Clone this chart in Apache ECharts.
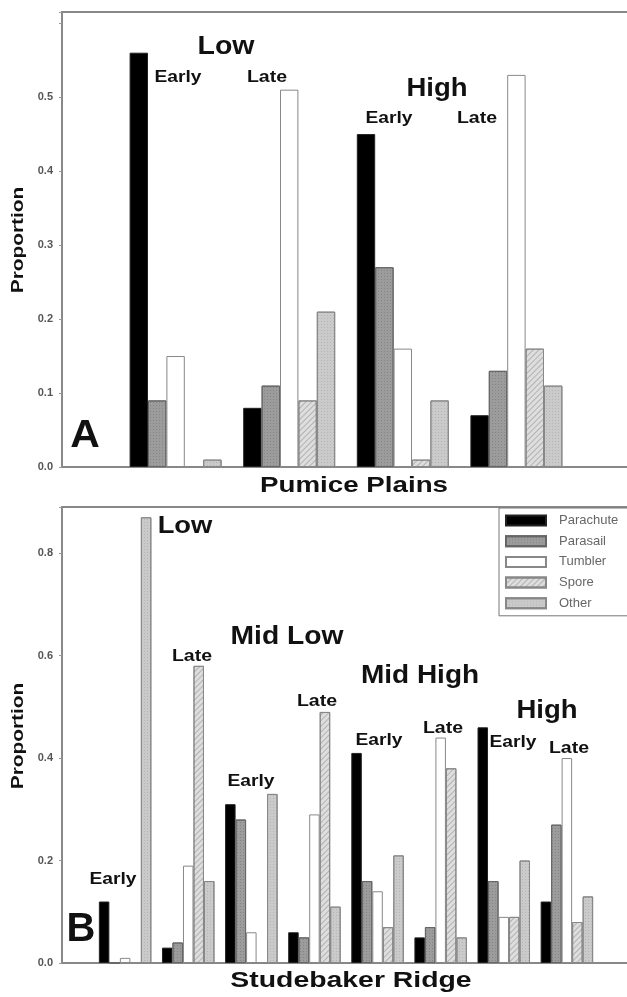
<!DOCTYPE html>
<html><head><meta charset="utf-8">
<script src="https://cdn.jsdelivr.net/npm/echarts@6/dist/echarts.min.js"></script>
<style>html,body{margin:0;padding:0;background:#fff;overflow:hidden}#c{width:627px;height:997px}</style>
</head><body><div id="c"></div>
<script>
// ---------- data ----------
const seriesNames = ['Parachute', 'Parasail', 'Tumbler', 'Spore', 'Other'];
const catsA = ['Low Early', 'Low Late', 'High Early', 'High Late'];
const catsB = ['Low Early', 'Low Late', 'Mid Low Early', 'Mid Low Late', 'Mid High Early', 'Mid High Late', 'High Early', 'High Late'];
// Pumice Plains (panel A)
const pumParachute = [0.56, 0.08, 0.45, 0.07];
const pumParasail  = [0.09, 0.11, 0.27, 0.13];
const pumTumbler   = [0.15, 0.51, 0.16, 0.53];
const pumSpore     = [0.00, 0.09, 0.01, 0.16];
const pumOther     = [0.01, 0.21, 0.09, 0.11];
// Studebaker Ridge (panel B)
const stuParachute = [0.12, 0.03, 0.31, 0.06, 0.41, 0.05, 0.46, 0.12];
const stuParasail  = [0.00, 0.04, 0.28, 0.05, 0.16, 0.07, 0.16, 0.27];
const stuTumbler   = [0.01, 0.19, 0.06, 0.29, 0.14, 0.44, 0.09, 0.40];
const stuSpore     = [0.00, 0.58, 0.00, 0.49, 0.07, 0.38, 0.09, 0.08];
const stuOther     = [0.87, 0.16, 0.33, 0.11, 0.21, 0.05, 0.20, 0.13];
// tick labels
const yTicksA = ['0.0', '0.1', '0.2', '0.3', '0.4', '0.5'];
const yTicksB = ['0.0', '0.2', '0.4', '0.6', '0.8'];

// ---------- styles ----------
const FONT = 'Liberation Sans, Arial, sans-serif';
const styles = {
  Parachute: { color: '#000000', borderColor: '#222', borderWidth: 1 },
  Parasail: { color: '#9c9c9c', borderColor: '#666', borderWidth: 1,
    decal: { symbol: 'rect', symbolSize: 1, dashArrayX: [1, 2], dashArrayY: [1, 2], color: 'rgba(0,0,0,0.15)' } },
  Tumbler: { color: '#ffffff', borderColor: '#888', borderWidth: 1 },
  Spore: { color: '#dedede', borderColor: '#888', borderWidth: 1,
    decal: { symbol: 'rect', symbolSize: 1, dashArrayX: [1, 0], dashArrayY: [1, 3], rotation: -Math.PI / 4, color: 'rgba(0,0,0,0.2)' } },
  Other: { color: '#cacaca', borderColor: '#888', borderWidth: 1,
    decal: { symbol: 'rect', symbolSize: 1, dashArrayX: [1, 2], dashArrayY: [1, 2], color: 'rgba(0,0,0,0.1)' } }
};
const pad = arr => [null].concat(arr, [null]);
const padCats = arr => [''].concat(arr, ['']);

const dataA = [pumParachute, pumParasail, pumTumbler, pumSpore, pumOther];
const dataB = [stuParachute, stuParasail, stuTumbler, stuSpore, stuOther];

const series = [];
seriesNames.forEach((n, i) => {
  series.push({ name: n, type: 'bar', xAxisIndex: 0, yAxisIndex: 0, data: pad(dataA[i]),
    barWidth: 18.4, barGap: '0%', itemStyle: styles[n], emphasis: { disabled: true } });
});
seriesNames.forEach((n, i) => {
  series.push({ name: n, type: 'bar', xAxisIndex: 1, yAxisIndex: 1, data: pad(dataB[i]),
    barWidth: 10.5, barGap: '0%', itemStyle: styles[n], emphasis: { disabled: true } });
});

function txt(t, x, y, size, sx, opts) {
  opts = opts || {};
  return { type: 'text', x: x, y: y, scaleX: sx, rotation: opts.rot || 0, z: 100,
    style: { text: t, fontSize: size, fontWeight: opts.w || 'bold', fontFamily: FONT, fill: opts.fill || '#111',
      align: 'center', verticalAlign: 'middle', textAlign: 'center', textVerticalAlign: 'middle' } };
}

const axisLineStyle = { show: true, lineStyle: { color: '#888', width: 2 } };
function yAxisCfg(gi, max, interval, ticks) {
  return { type: 'value', gridIndex: gi, min: 0, max: max, interval: interval,
    axisLine: axisLineStyle, splitLine: { show: false },
    axisTick: { show: true, length: 3, lineStyle: { color: '#999' } },
    axisLabel: { margin: 9, fontSize: 11, fontWeight: 'bold', color: '#555', fontFamily: FONT,
      formatter: v => { const s = v.toFixed(1); return (ticks.indexOf(s) >= 0 && v < max - 1e-6) ? s : ''; } } };
}
function xAxisCfg(gi, cats) {
  return { type: 'category', gridIndex: gi, data: padCats(cats), boundaryGap: false,
    axisLine: axisLineStyle, axisTick: { show: false }, axisLabel: { show: false }, splitLine: { show: false } };
}

const option = {
  animation: false,
  backgroundColor: '#fff',
  grid: [
    { left: 62, top: 12, width: 568, height: 455, outerBoundsMode: 'none', containLabel: false,
      show: true, borderColor: '#888', borderWidth: 2, backgroundColor: 'transparent' },
    { left: 62, top: 507, width: 568, height: 456, outerBoundsMode: 'none', containLabel: false,
      show: true, borderColor: '#888', borderWidth: 2, backgroundColor: 'transparent' }
  ],
  xAxis: [xAxisCfg(0, catsA), xAxisCfg(1, catsB)],
  yAxis: [yAxisCfg(0, 0.615, 0.1, yTicksA), yAxisCfg(1, 0.89, 0.2, yTicksB)],
  legend: {
    data: seriesNames, orient: 'vertical', left: 499, top: 508, icon: 'rect',
    itemWidth: 40, itemHeight: 10, itemGap: 7.7, padding: [6, 34, 6, 6],
    borderColor: '#777', borderWidth: 1, backgroundColor: '#fff',
    selectedMode: false,
    textStyle: { fontSize: 13, color: '#666', fontFamily: FONT, padding: [0, 0, 0, 8] }
  },
  series: series,
  graphic: [
    // panel A
    txt('Low', 226, 47, 25, 1.14),
    txt('Early', 178, 78, 16, 1.2),
    txt('Late', 267, 78, 16, 1.22),
    txt('High', 437, 89, 25, 1.1),
    txt('Early', 389, 119, 16, 1.2),
    txt('Late', 477, 119, 16, 1.22),
    txt('A', 85, 436, 39, 1.05),
    txt('Pumice Plains', 354, 486, 22, 1.26),
    txt('Proportion', 19, 240, 16, 1.3, { rot: Math.PI / 2 }),
    // panel B
    txt('Low', 185, 526, 24, 1.14),
    txt('Early', 113, 880, 16, 1.2),
    txt('Late', 192, 657, 16, 1.22),
    txt('Mid Low', 287, 637, 25, 1.13),
    txt('Early', 251, 782, 16, 1.2),
    txt('Late', 317, 702, 16, 1.22),
    txt('Mid High', 420, 676, 25, 1.12),
    txt('Early', 379, 741, 16, 1.2),
    txt('Late', 443, 729, 16, 1.22),
    txt('High', 547, 711, 25, 1.1),
    txt('Early', 513, 743, 16, 1.2),
    txt('Late', 569, 749, 16, 1.22),
    txt('B', 81, 930, 40, 1.0),
    txt('Studebaker Ridge', 351, 981, 22, 1.29),
    txt('Proportion', 19, 736, 16, 1.3, { rot: Math.PI / 2 })
  ]
};
const chart = echarts.init(document.getElementById('c'), null, { renderer: 'canvas', width: 627, height: 997 });
chart.setOption(option);
</script>
</body></html>
